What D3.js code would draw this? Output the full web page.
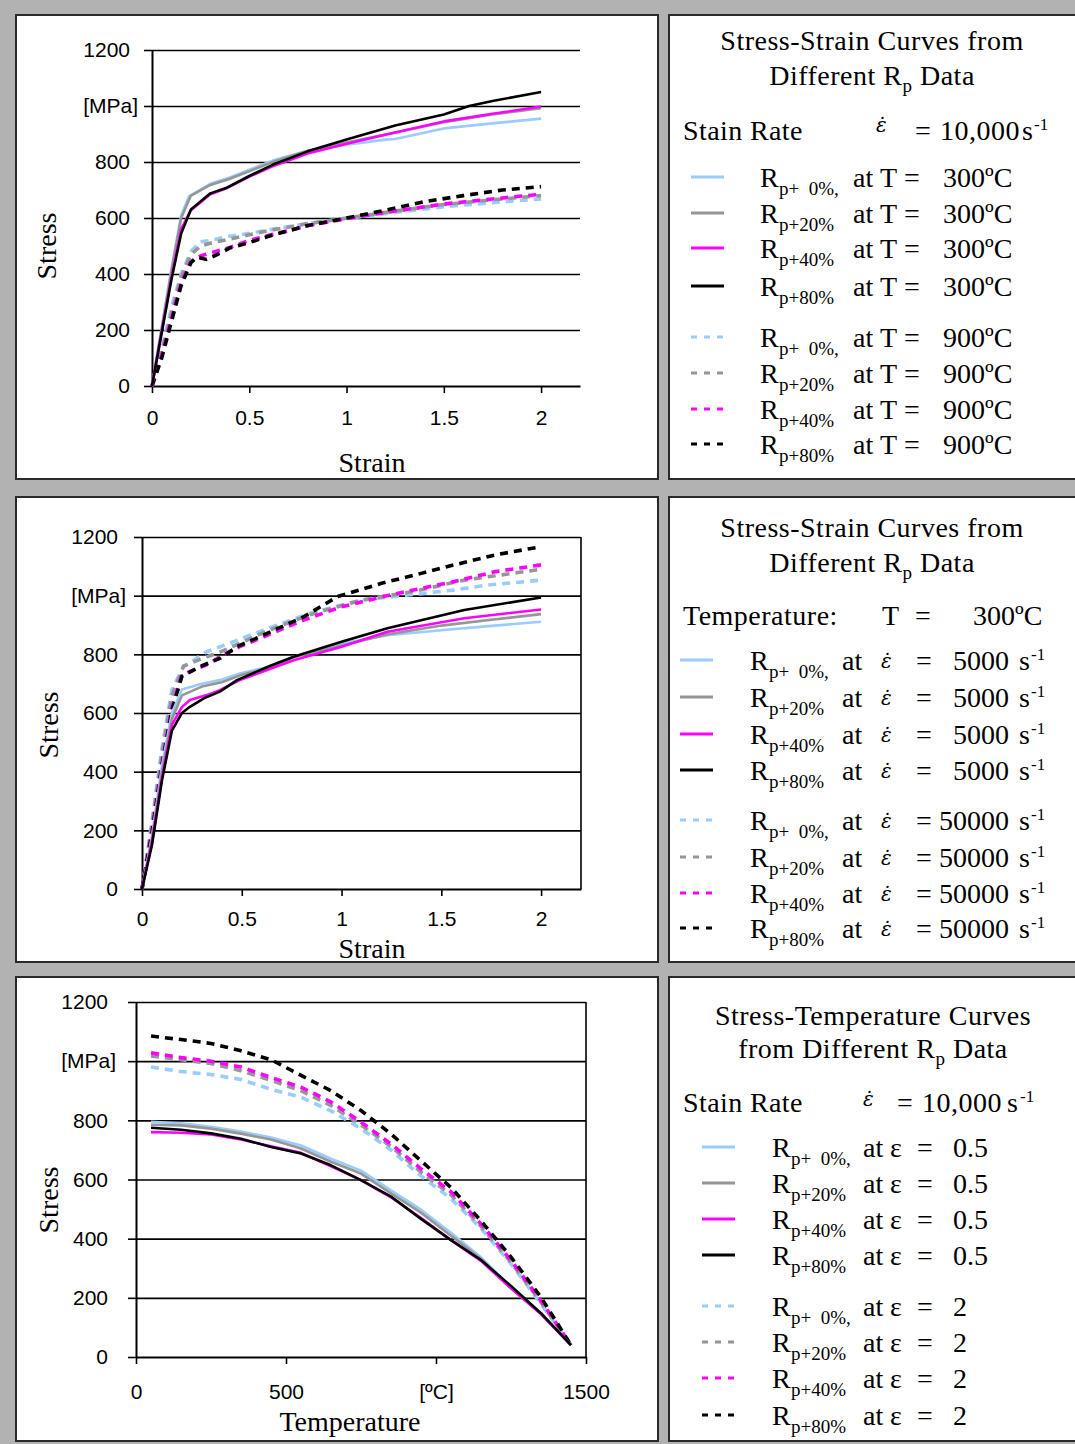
<!DOCTYPE html>
<html>
<head>
<meta charset="utf-8">
<script src="https://cdn.jsdelivr.net/npm/d3@7"></script>
<style>
  body { margin: 0; background: #b2b2b2; }
  text { white-space: pre; }
</style>
</head>
<body>
<svg id="fig" width="1075" height="1444"></svg>
<script>
// ---------------- data ----------------
// Stress [MPa] vs strain, strain rate 10,000 1/s, T = 300 C (solid) and 900 C (dashed)
const s1_rp0_T300  = [[0,0],[0.1,420],[0.15,610],[0.19,677],[0.3,722],[0.4,745],[0.62,805],[0.8,840],[1.0,862],[1.2,880],[1.25,882],[1.5,920],[1.75,938],[2.0,955]];
const s1_rp20_T300 = [[0,0],[0.1,410],[0.15,600],[0.2,680],[0.3,718],[0.4,740],[0.62,800],[0.8,840],[1.0,870],[1.25,905],[1.5,942],[1.75,970],[2.0,992]];
const s1_rp40_T300 = [[0,0],[0.1,390],[0.15,560],[0.2,628],[0.3,685],[0.38,705],[0.5,748],[0.62,785],[0.8,830],[1.0,865],[1.25,905],[1.5,945],[1.75,972],[2.0,998]];
const s1_rp80_T300 = [[0,0],[0.1,380],[0.15,545],[0.2,630],[0.3,688],[0.38,707],[0.5,750],[0.62,790],[0.8,838],[1.0,880],[1.25,930],[1.5,970],[1.63,1000],[1.75,1018],[2.0,1050]];
const s1_rp0_T900  = [[0,0],[0.05,130],[0.1,280],[0.15,400],[0.2,480],[0.25,515],[0.3,520],[0.4,535],[0.5,545],[0.6,558],[0.8,580],[1.0,598],[1.25,620],[1.5,640],[1.75,655],[2.0,668]];
const s1_rp20_T900 = [[0,0],[0.05,120],[0.1,260],[0.15,390],[0.2,470],[0.25,500],[0.3,510],[0.4,525],[0.5,540],[0.6,555],[0.8,580],[1.0,600],[1.25,625],[1.5,648],[1.75,665],[2.0,680]];
const s1_rp40_T900 = [[0,0],[0.05,110],[0.1,240],[0.15,370],[0.2,445],[0.25,465],[0.3,475],[0.4,495],[0.5,520],[0.6,538],[0.8,572],[1.0,598],[1.25,625],[1.5,650],[1.75,668],[2.0,685]];
const s1_rp80_T900 = [[0,0],[0.05,100],[0.1,230],[0.15,360],[0.2,440],[0.23,460],[0.28,452],[0.35,474],[0.4,493],[0.5,512],[0.6,535],[0.8,573],[1.0,600],[1.2,628],[1.4,658],[1.6,680],[1.8,700],[2.0,712]];

// Stress [MPa] vs strain, T = 300 C, strain rate 5000 1/s (solid) and 50000 1/s (dashed)
const s2_rp0_r5k   = [[0,0],[0.05,180],[0.1,420],[0.15,600],[0.2,680],[0.3,700],[0.39,712],[0.49,735],[0.64,758],[0.76,792],[1.0,838],[1.23,865],[1.5,882],[1.75,897],[2.0,911]];
const s2_rp20_r5k  = [[0,0],[0.05,170],[0.1,400],[0.15,580],[0.2,660],[0.3,690],[0.4,705],[0.5,730],[0.64,755],[0.76,790],[1.0,830],[1.23,868],[1.5,898],[1.75,918],[2.0,937]];
const s2_rp40_r5k  = [[0,0],[0.05,160],[0.1,380],[0.15,560],[0.2,620],[0.24,644],[0.325,661],[0.39,678],[0.49,712],[0.64,750],[0.76,780],[1.0,826],[1.23,877],[1.615,923],[2.0,953]];
const s2_rp80_r5k  = [[0,0],[0.05,150],[0.1,370],[0.15,540],[0.2,600],[0.24,621],[0.31,650],[0.39,673],[0.476,712],[0.64,760],[0.76,792],[1.0,843],[1.23,889],[1.615,951],[2.0,994]];
const s2_rp0_r50k  = [[0,0],[0.05,230],[0.1,480],[0.15,680],[0.208,758],[0.325,809],[0.44,838],[0.61,883],[0.84,940],[1.1,985],[1.33,1002],[1.56,1019],[1.73,1036],[2.0,1053]];
const s2_rp20_r50k = [[0,0],[0.05,220],[0.1,460],[0.15,660],[0.208,760],[0.325,792],[0.4,810],[0.61,875],[0.84,935],[1.1,985],[1.35,1013],[1.615,1053],[2.0,1090]];
const s2_rp40_r50k = [[0,0],[0.05,200],[0.1,430],[0.15,620],[0.2,730],[0.34,769],[0.39,792],[0.49,826],[0.61,860],[0.81,917],[1.0,962],[1.21,997],[1.4,1025],[1.565,1048],[1.77,1082],[2.0,1105]];
const s2_rp80_r50k = [[0,0],[0.05,190],[0.1,420],[0.15,610],[0.2,725],[0.29,758],[0.39,786],[0.476,826],[0.61,866],[0.81,928],[0.98,997],[1.2,1042],[1.4,1076],[1.565,1105],[1.77,1139],[2.0,1167]];

// Stress [MPa] vs temperature [C], strain rate 10,000 1/s, strain 0.5 (solid) and 2 (dashed)
const temps = [50,150,250,350,450,550,650,750,850,950,1050,1150,1250,1350,1450];
const s3_rp0_e05  = [795,790,778,762,742,715,670,630,563,498,420,337,235,146,40];
const s3_rp20_e05 = [785,783,772,755,735,705,660,620,553,488,410,332,232,145,40];
const s3_rp40_e05 = [760,758,752,735,712,690,645,598,540,470,395,325,232,145,40];
const s3_rp80_e05 = [775,768,756,738,710,688,648,598,542,467,395,328,240,148,40];
const s3_rp0_e2   = [980,965,955,938,905,878,832,772,700,612,535,435,315,180,40];
const s3_rp20_e2  = [1018,1005,992,968,935,900,850,785,712,625,548,442,320,185,40];
const s3_rp40_e2  = [1028,1012,1000,980,945,912,862,794,720,636,558,450,327,190,40];
const s3_rp80_e2  = [1085,1073,1060,1035,1005,952,900,833,754,663,573,460,338,202,40];

// axis ticks
const stressTicks = [0,200,400,600,800,1000,1200];
const strainTicks = [0,0.5,1,1.5,2];
const tempTicks = [0,500,1000,1500];

// legend labels
const rpSubs = ["p+  0%,","p+20%","p+40%","p+80%"];
const legendTemps = ["300ºC","900ºC"];
const legendRates = ["5000","50000"];
const legendStrains = ["0.5","2"];

// ---------------- styling ----------------
const seriesColors = ["#99ccff","#969696","#ff00ff","#000000"];
const SERIF = "'Liberation Serif','Times New Roman',serif";
const SANS = "'Liberation Sans',Arial,sans-serif";

const svg = d3.select("#fig");
svg.append("rect").attr("width",1075).attr("height",1444).attr("fill","#b2b2b2");

function txt(g, x, y, s, o = {}) {
  const t = g.append("text").attr("x", x).attr("y", y).text(s)
    .attr("font-family", o.family || (o.sans ? SANS : SERIF))
    .attr("font-size", o.size || 28)
    .attr("text-anchor", o.anchor || "start")
    .attr("fill", "#000");
  if (o.italic) t.attr("font-style", "italic");
  if (o.ls) t.attr("letter-spacing", o.ls);
  return t;
}

// panels
const rows = [[15,479],[497,962],[977,1441]];
rows.forEach(([t,b]) => {
  svg.append("rect").attr("x",16).attr("y",t).attr("width",642).attr("height",b-t)
    .attr("fill","#fff").attr("stroke","#2a2a2a").attr("stroke-width",2);
  svg.append("rect").attr("x",669).attr("y",t).attr("width",420).attr("height",b-t)
    .attr("fill","#fff").attr("stroke","#2a2a2a").attr("stroke-width",2);
});

// ---------------- charts ----------------
function drawChart(c) {
  const g = svg.append("g");
  const x = d3.scaleLinear().domain(c.xDomain).range([c.left, c.right]);
  const y = d3.scaleLinear().domain([0,1200]).range([c.bottom, c.top]);

  // horizontal grid
  g.append("g").attr("transform", `translate(${c.left},0)`)
    .call(d3.axisLeft(y).tickValues(stressTicks.slice(1)).tickSize(-(c.right - c.left)).tickFormat(""))
    .call(a => a.select(".domain").remove())
    .call(a => a.selectAll("line").attr("stroke","#000").attr("stroke-width",1.6));

  if (c.frameRight) {
    g.append("line").attr("x1", c.right).attr("x2", c.right).attr("y1", c.top).attr("y2", c.bottom)
      .attr("stroke","#000").attr("stroke-width",1.6);
  }

  // y axis
  const ya = g.append("g").attr("transform", `translate(${c.left},0)`)
    .call(d3.axisLeft(y).tickValues(stressTicks).tickSize(8).tickSizeOuter(0).tickPadding(c.yPad)
      .tickFormat(d => d === 1000 ? "[MPa]" : d));
  ya.select(".domain").attr("stroke","#000").attr("stroke-width",2);
  ya.selectAll("line").attr("stroke","#000").attr("stroke-width",1.6);
  ya.selectAll("text").attr("font-family", SANS).attr("font-size", 21).attr("fill","#000")
    .attr("dx", d => d === 1000 ? 8 : 0);

  // x axis
  const xa = g.append("g").attr("transform", `translate(0,${c.bottom})`)
    .call(d3.axisBottom(x).tickValues(c.xTicks).tickSize(7).tickSizeOuter(0).tickPadding(c.xPad)
      .tickFormat(c.xFormat));
  xa.select(".domain").attr("stroke","#000").attr("stroke-width",2);
  xa.selectAll("line").attr("stroke","#000").attr("stroke-width",1.6);
  xa.selectAll("text").attr("font-family", SANS).attr("font-size", 21).attr("fill","#000");

  // titles
  txt(g, 0, 0, "Stress", {anchor:"middle"}).attr("x",null).attr("y",null)
    .attr("transform", `translate(${c.yTitle[0]},${c.yTitle[1]}) rotate(-90)`);
  txt(g, c.xTitle[0], c.xTitle[1], c.xTitleText, {anchor:"middle"});

  const line = d3.line().x(d => x(d[0])).y(d => y(d[1]));
  const lines = g.append("g");
  c.dashed.forEach((s, i) => {
    lines.append("path").attr("d", line(s)).attr("fill","none")
      .attr("stroke", seriesColors[i]).attr("stroke-width", 3.6).attr("stroke-dasharray","8,6");
  });
  c.solid.forEach((s, i) => {
    lines.append("path").attr("d", line(s)).attr("fill","none")
      .attr("stroke", seriesColors[i]).attr("stroke-width", 2.6).attr("stroke-linejoin","round");
  });
}

drawChart({
  left:152, right:580, top:50, bottom:386, xDomain:[0,2.2], xTicks:strainTicks,
  xFormat:d3.format(""), yPad:14, xPad:17, frameRight:false,
  yTitle:[56,246], xTitle:[372,472], xTitleText:"Strain",
  solid:[s1_rp0_T300,s1_rp20_T300,s1_rp40_T300,s1_rp80_T300],
  dashed:[s1_rp0_T900,s1_rp20_T900,s1_rp40_T900,s1_rp80_T900]
});
drawChart({
  left:142, right:581, top:537, bottom:889, xDomain:[0,2.2], xTicks:strainTicks,
  xFormat:d3.format(""), yPad:16, xPad:15, frameRight:true,
  yTitle:[58,725], xTitle:[372,958], xTitleText:"Strain",
  solid:[s2_rp0_r5k,s2_rp20_r5k,s2_rp40_r5k,s2_rp80_r5k],
  dashed:[s2_rp0_r50k,s2_rp20_r50k,s2_rp40_r50k,s2_rp80_r50k]
});
drawChart({
  left:136, right:586, top:1002, bottom:1357, xDomain:[0,1500], xTicks:tempTicks,
  xFormat:d => d === 1000 ? "[ºC]" : d, yPad:20, xPad:20, frameRight:true,
  yTitle:[58,1200], xTitle:[350,1431], xTitleText:"Temperature",
  solid:[s3_rp0_e05,s3_rp20_e05,s3_rp40_e05,s3_rp80_e05].map(v => d3.zip(temps, v)),
  dashed:[s3_rp0_e2,s3_rp20_e2,s3_rp40_e2,s3_rp80_e2].map(v => d3.zip(temps, v))
});

// ---------------- legends ----------------
function titleWithSub(g, x, y, before, sub, after) {
  const t = txt(g, x, y, before, {anchor:"middle", ls:0.5});
  t.append("tspan").attr("font-size",19).attr("dy",7).text(sub);
  t.append("tspan").attr("font-size",28).attr("dy",-7).text(after);
  return t;
}
// strain-rate symbol: italic epsilon with a combining dot above
function epsDot(g, x, y, size) {
  txt(g, x, y, "ε\u0307", {italic:true, size:size, family:"'DejaVu Serif','Liberation Serif',serif"});
}
function sampleLine(g, x0, x1, yy, i, dashed) {
  g.append("line").attr("x1",x0).attr("x2",x1).attr("y1",yy).attr("y2",yy)
    .attr("stroke", seriesColors[i]).attr("stroke-width",3)
    .attr("stroke-dasharray", dashed ? "6,7" : null);
}
function sup(g, x, y, s) { txt(g, x, y, s, {size:17}); }

// legend 1
{
  const g = svg.append("g");
  txt(g, 872, 50, "Stress-Strain Curves from", {anchor:"middle", ls:0.5});
  titleWithSub(g, 872, 85, "Different R", "p", " Data");
  txt(g, 683, 140, "Stain Rate", {ls:0.4});
  epsDot(g, 876, 132, 20);
  txt(g, 915, 140, "=");
  txt(g, 940, 140, "10,000", {ls:0.5});
  txt(g, 1022, 140, "s");
  sup(g, 1034, 130, "-1");
  const ys = [177,213,248,286,337,373,409,444];
  ys.forEach((ly, k) => {
    const i = k % 4, dashed = k >= 4, b = ly + 10;
    sampleLine(g, 691, 724, ly, i, dashed);
    txt(g, 760, b, "R");
    txt(g, 779, b + 8, rpSubs[i], {size:19});
    txt(g, 853, b, "at");
    txt(g, 880, b, "T");
    txt(g, 904, b, "=");
    txt(g, 943, b, legendTemps[dashed ? 1 : 0]);
  });
}

// legend 2
{
  const g = svg.append("g");
  txt(g, 872, 537, "Stress-Strain Curves from", {anchor:"middle", ls:0.5});
  titleWithSub(g, 872, 572, "Different R", "p", " Data");
  txt(g, 683, 625, "Temperature:", {ls:0.5});
  txt(g, 882, 625, "T");
  txt(g, 915, 625, "=");
  txt(g, 973, 625, "300ºC");
  const ys = [660,697,734,770,820,857,893,928];
  ys.forEach((ly, k) => {
    const i = k % 4, dashed = k >= 4, b = ly + 10;
    sampleLine(g, 680, 713, ly, i, dashed);
    txt(g, 750, b, "R");
    txt(g, 769, b + 8, rpSubs[i], {size:19});
    txt(g, 842, b, "at");
    epsDot(g, 881, b - 2, 20);
    txt(g, 916, b, "=");
    txt(g, dashed ? 939 : 953, b, legendRates[dashed ? 1 : 0]);
    txt(g, 1019, b, "s");
    sup(g, 1031, b - 10, "-1");
  });
}

// legend 3
{
  const g = svg.append("g");
  txt(g, 873, 1025, "Stress-Temperature Curves", {anchor:"middle", ls:0.5});
  titleWithSub(g, 873, 1058, "from Different R", "p", " Data");
  txt(g, 683, 1112, "Stain Rate", {ls:0.4});
  epsDot(g, 863, 1106, 20);
  txt(g, 897, 1112, "=");
  txt(g, 922, 1112, "10,000", {ls:0.5});
  txt(g, 1007, 1112, "s");
  sup(g, 1020, 1102, "-1");
  const ys = [1147,1183,1219,1255,1306,1342,1378,1415];
  ys.forEach((ly, k) => {
    const i = k % 4, dashed = k >= 4, b = ly + 10;
    sampleLine(g, 702, 735, ly, i, dashed);
    txt(g, 772, b, "R");
    txt(g, 791, b + 8, rpSubs[i], {size:19});
    txt(g, 863, b, "at");
    txt(g, 890, b, "ε");
    txt(g, 917, b, "=");
    txt(g, 953, b, legendStrains[dashed ? 1 : 0]);
  });
}
</script>
</body>
</html>
